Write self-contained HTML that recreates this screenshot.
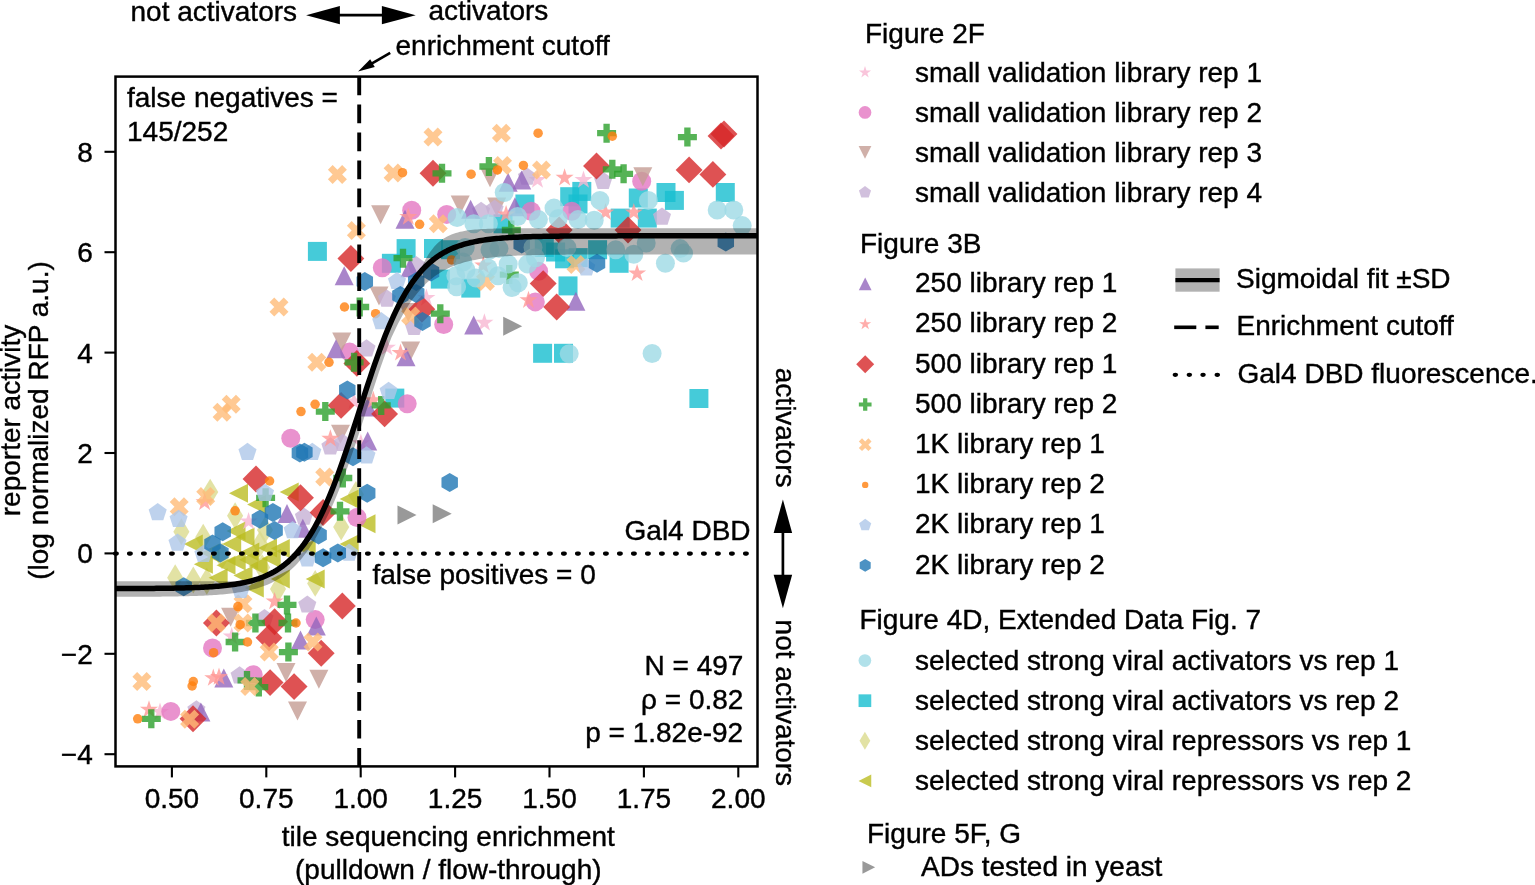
<!DOCTYPE html>
<html><head><meta charset="utf-8"><title>Reporter activity vs tile sequencing enrichment</title>
<style>
html,body{margin:0;padding:0;background:#fff;}
body{width:1535px;height:885px;overflow:hidden;}
svg{display:block;}
svg text{font-family:"Liberation Sans",Arial,Helvetica,sans-serif;font-size:28px;fill:#000;stroke:#000;stroke-width:0.4px;}
</style></head>
<body>
<svg width="1535" height="885" viewBox="0 0 1535 885">
<rect x="0" y="0" width="1535" height="885" fill="#fff"/>
<g><path d="M222 542.56L230.06 556L222 569.44L213.94 556Z" fill="#dbdb8d" fill-opacity="0.8"/>
<path d="M265 516.56L273.06 530L265 543.44L256.94 530Z" fill="#dbdb8d" fill-opacity="0.8"/>
<path d="M181.4 518.26L189.46 531.7L181.4 545.14L173.34 531.7Z" fill="#dbdb8d" fill-opacity="0.8"/>
<path d="M210.2 478.66L218.26 492.1L210.2 505.54L202.14 492.1Z" fill="#dbdb8d" fill-opacity="0.8"/>
<path d="M235.1 502.36L243.16 515.8L235.1 529.24L227.04 515.8Z" fill="#dbdb8d" fill-opacity="0.8"/>
<path d="M260 530.66L268.06 544.1L260 557.54L251.94 544.1Z" fill="#dbdb8d" fill-opacity="0.8"/>
<path d="M355.9 480.96L363.96 494.4L355.9 507.84L347.84 494.4Z" fill="#dbdb8d" fill-opacity="0.8"/>
<path d="M341.2 513.66L349.26 527.1L341.2 540.54L333.14 527.1Z" fill="#dbdb8d" fill-opacity="0.8"/>
<path d="M175.2 564.36L183.26 577.8L175.2 591.24L167.14 577.8Z" fill="#dbdb8d" fill-opacity="0.8"/>
<path d="M193.3 566.56L201.36 580L193.3 593.44L185.24 580Z" fill="#dbdb8d" fill-opacity="0.8"/>
<path d="M206.8 567.76L214.86 581.2L206.8 594.64L198.74 581.2Z" fill="#dbdb8d" fill-opacity="0.8"/>
<path d="M278 575.56L286.06 589L278 602.44L269.94 589Z" fill="#dbdb8d" fill-opacity="0.8"/>
<path d="M262.2 554.16L270.26 567.6L262.2 581.04L254.14 567.6Z" fill="#dbdb8d" fill-opacity="0.8"/>
<path d="M315.2 569.96L323.26 583.4L315.2 596.84L307.14 583.4Z" fill="#dbdb8d" fill-opacity="0.8"/>
<path d="M203.2 523.86L211.26 537.3L203.2 550.74L195.14 537.3Z" fill="#dbdb8d" fill-opacity="0.8"/>
<path d="M200.5 553L219.5 543.5L219.5 562.5Z" fill="#bcbd22" fill-opacity="0.8"/>
<path d="M258 548L277 538.5L277 557.5Z" fill="#bcbd22" fill-opacity="0.8"/>
<path d="M248.5 566L267.5 556.5L267.5 575.5Z" fill="#bcbd22" fill-opacity="0.8"/>
<path d="M235.5 537L254.5 527.5L254.5 546.5Z" fill="#bcbd22" fill-opacity="0.8"/>
<path d="M229 493.2L248 483.7L248 502.7Z" fill="#bcbd22" fill-opacity="0.8"/>
<path d="M247.1 504.5L266.1 495L266.1 514Z" fill="#bcbd22" fill-opacity="0.8"/>
<path d="M222.2 544.1L241.2 534.6L241.2 553.6Z" fill="#bcbd22" fill-opacity="0.8"/>
<path d="M240.3 552L259.3 542.5L259.3 561.5Z" fill="#bcbd22" fill-opacity="0.8"/>
<path d="M270.8 548.6L289.8 539.1L289.8 558.1Z" fill="#bcbd22" fill-opacity="0.8"/>
<path d="M183.8 544.1L202.8 534.6L202.8 553.6Z" fill="#bcbd22" fill-opacity="0.8"/>
<path d="M226.7 561L245.7 551.5L245.7 570.5Z" fill="#bcbd22" fill-opacity="0.8"/>
<path d="M279.7 492.1L298.7 482.6L298.7 501.6Z" fill="#bcbd22" fill-opacity="0.8"/>
<path d="M339.6 498.9L358.6 489.4L358.6 508.4Z" fill="#bcbd22" fill-opacity="0.8"/>
<path d="M356.5 523.8L375.5 514.3L375.5 533.3Z" fill="#bcbd22" fill-opacity="0.8"/>
<path d="M296.7 548.6L315.7 539.1L315.7 558.1Z" fill="#bcbd22" fill-opacity="0.8"/>
<path d="M339.6 544.1L358.6 534.6L358.6 553.6Z" fill="#bcbd22" fill-opacity="0.8"/>
<path d="M208.6 577.8L227.6 568.3L227.6 587.3Z" fill="#bcbd22" fill-opacity="0.8"/>
<path d="M233.5 575.5L252.5 566L252.5 585Z" fill="#bcbd22" fill-opacity="0.8"/>
<path d="M244.8 588L263.8 578.5L263.8 597.5Z" fill="#bcbd22" fill-opacity="0.8"/>
<path d="M270.8 578.9L289.8 569.4L289.8 588.4Z" fill="#bcbd22" fill-opacity="0.8"/>
<path d="M193.9 564.2L212.9 554.7L212.9 573.7Z" fill="#bcbd22" fill-opacity="0.8"/>
<path d="M216.5 565.3L235.5 555.8L235.5 574.8Z" fill="#bcbd22" fill-opacity="0.8"/>
<path d="M239.1 559.7L258.1 550.2L258.1 569.2Z" fill="#bcbd22" fill-opacity="0.8"/>
<path d="M261.7 558.6L280.7 549.1L280.7 568.1Z" fill="#bcbd22" fill-opacity="0.8"/>
<path d="M305.7 578.9L324.7 569.4L324.7 588.4Z" fill="#bcbd22" fill-opacity="0.8"/>
<path d="M226.5 531L245.5 521.5L245.5 540.5Z" fill="#bcbd22" fill-opacity="0.8"/>
<path d="M572.3 181.9L591.3 181.9L591.3 200.9L572.3 200.9Z" fill="#17becf" fill-opacity="0.8"/>
<path d="M656.5 183L675.5 183L675.5 202L656.5 202Z" fill="#17becf" fill-opacity="0.8"/>
<path d="M664.9 190.9L683.9 190.9L683.9 209.9L664.9 209.9Z" fill="#17becf" fill-opacity="0.8"/>
<path d="M715.8 183L734.8 183L734.8 202L715.8 202Z" fill="#17becf" fill-opacity="0.8"/>
<path d="M628.8 188.5L647.8 188.5L647.8 207.5L628.8 207.5Z" fill="#17becf" fill-opacity="0.8"/>
<path d="M307.9 241.9L326.9 241.9L326.9 260.9L307.9 260.9Z" fill="#17becf" fill-opacity="0.8"/>
<path d="M396.6 239.1L415.6 239.1L415.6 258.1L396.6 258.1Z" fill="#17becf" fill-opacity="0.8"/>
<path d="M381.9 253.8L400.9 253.8L400.9 272.8L381.9 272.8Z" fill="#17becf" fill-opacity="0.8"/>
<path d="M515.4 194.5L534.4 194.5L534.4 213.5L515.4 213.5Z" fill="#17becf" fill-opacity="0.8"/>
<path d="M560.2 187.2L579.2 187.2L579.2 206.2L560.2 206.2Z" fill="#17becf" fill-opacity="0.8"/>
<path d="M568.5 194.5L587.5 194.5L587.5 213.5L568.5 213.5Z" fill="#17becf" fill-opacity="0.8"/>
<path d="M493.5 214.3L512.5 214.3L512.5 233.3L493.5 233.3Z" fill="#17becf" fill-opacity="0.8"/>
<path d="M424 239L443 239L443 258L424 258Z" fill="#17becf" fill-opacity="0.8"/>
<path d="M441 240.2L460 240.2L460 259.2L441 259.2Z" fill="#17becf" fill-opacity="0.8"/>
<path d="M534.8 238L553.8 238L553.8 257L534.8 257Z" fill="#17becf" fill-opacity="0.8"/>
<path d="M546.1 242.5L565.1 242.5L565.1 261.5L546.1 261.5Z" fill="#17becf" fill-opacity="0.8"/>
<path d="M555.1 249.3L574.1 249.3L574.1 268.3L555.1 268.3Z" fill="#17becf" fill-opacity="0.8"/>
<path d="M558.5 276.4L577.5 276.4L577.5 295.4L558.5 295.4Z" fill="#17becf" fill-opacity="0.8"/>
<path d="M568.7 248.1L587.7 248.1L587.7 267.1L568.7 267.1Z" fill="#17becf" fill-opacity="0.8"/>
<path d="M430.8 269.6L449.8 269.6L449.8 288.6L430.8 288.6Z" fill="#17becf" fill-opacity="0.8"/>
<path d="M461.3 278.6L480.3 278.6L480.3 297.6L461.3 297.6Z" fill="#17becf" fill-opacity="0.8"/>
<path d="M610.7 208.6L629.7 208.6L629.7 227.6L610.7 227.6Z" fill="#17becf" fill-opacity="0.8"/>
<path d="M637.8 208.6L656.8 208.6L656.8 227.6L637.8 227.6Z" fill="#17becf" fill-opacity="0.8"/>
<path d="M588.1 240.2L607.1 240.2L607.1 259.2L588.1 259.2Z" fill="#17becf" fill-opacity="0.8"/>
<path d="M609.6 253.8L628.6 253.8L628.6 272.8L609.6 272.8Z" fill="#17becf" fill-opacity="0.8"/>
<path d="M533.1 343.8L552.1 343.8L552.1 362.8L533.1 362.8Z" fill="#17becf" fill-opacity="0.8"/>
<path d="M554 343.8L573 343.8L573 362.8L554 362.8Z" fill="#17becf" fill-opacity="0.8"/>
<path d="M689.4 389L708.4 389L708.4 408L689.4 408Z" fill="#17becf" fill-opacity="0.8"/>
<path d="M385.3 388.6L404.3 388.6L404.3 407.6L385.3 407.6Z" fill="#17becf" fill-opacity="0.8"/>
<path d="M537.5 170.5L539.63 177.06L546.54 177.06L540.95 181.12L543.08 187.69L537.5 183.63L531.92 187.69L534.05 181.12L528.46 177.06L535.37 177.06Z" fill="#f7b6d2" fill-opacity="0.8"/>
<path d="M583.5 170.5L585.63 177.06L592.54 177.06L586.95 181.12L589.08 187.69L583.5 183.63L577.92 187.69L580.05 181.12L574.46 177.06L581.37 177.06Z" fill="#f7b6d2" fill-opacity="0.8"/>
<path d="M426.4 288.5L428.53 295.06L435.44 295.06L429.85 299.12L431.98 305.69L426.4 301.63L420.82 305.69L422.95 299.12L417.36 295.06L424.27 295.06Z" fill="#f7b6d2" fill-opacity="0.8"/>
<path d="M386.9 338.1L389.03 344.66L395.94 344.66L390.35 348.72L392.48 355.29L386.9 351.23L381.32 355.29L383.45 348.72L377.86 344.66L384.77 344.66Z" fill="#f7b6d2" fill-opacity="0.8"/>
<path d="M484.4 313.3L486.53 319.86L493.44 319.86L487.85 323.92L489.98 330.49L484.4 326.43L478.82 330.49L480.95 323.92L475.36 319.86L482.27 319.86Z" fill="#f7b6d2" fill-opacity="0.8"/>
<path d="M354 392L356.13 398.56L363.04 398.56L357.45 402.62L359.58 409.19L354 405.13L348.42 409.19L350.55 402.62L344.96 398.56L351.87 398.56Z" fill="#f7b6d2" fill-opacity="0.8"/>
<path d="M360.9 433.8L363.03 440.36L369.94 440.36L364.35 444.42L366.48 450.99L360.9 446.93L355.32 450.99L357.45 444.42L351.86 440.36L358.77 440.36Z" fill="#f7b6d2" fill-opacity="0.8"/>
<path d="M248.6 512L250.73 518.56L257.64 518.56L252.05 522.62L254.18 529.19L248.6 525.13L243.02 529.19L245.15 522.62L239.56 518.56L246.47 518.56Z" fill="#f7b6d2" fill-opacity="0.8"/>
<path d="M231.7 627L233.83 633.56L240.74 633.56L235.15 637.62L237.28 644.19L231.7 640.13L226.12 644.19L228.25 637.62L222.66 633.56L229.57 633.56Z" fill="#f7b6d2" fill-opacity="0.8"/>
<path d="M160 702.5L162.13 709.06L169.04 709.06L163.45 713.12L165.58 719.69L160 715.63L154.42 719.69L156.55 713.12L150.96 709.06L157.87 709.06Z" fill="#f7b6d2" fill-opacity="0.8"/>
<circle cx="641.7" cy="181.2" r="9.5" fill="#e377c2" fill-opacity="0.8"/>
<circle cx="411.7" cy="210.2" r="9.5" fill="#e377c2" fill-opacity="0.8"/>
<circle cx="382.3" cy="267.8" r="9.5" fill="#e377c2" fill-opacity="0.8"/>
<circle cx="446.7" cy="214.4" r="9.5" fill="#e377c2" fill-opacity="0.8"/>
<circle cx="531.1" cy="211.3" r="9.5" fill="#e377c2" fill-opacity="0.8"/>
<circle cx="571.8" cy="211.3" r="9.5" fill="#e377c2" fill-opacity="0.8"/>
<circle cx="538.6" cy="271.2" r="9.5" fill="#e377c2" fill-opacity="0.8"/>
<circle cx="349.6" cy="352.1" r="9.5" fill="#e377c2" fill-opacity="0.8"/>
<circle cx="443.7" cy="324.5" r="9.5" fill="#e377c2" fill-opacity="0.8"/>
<circle cx="535.3" cy="301.9" r="9.5" fill="#e377c2" fill-opacity="0.8"/>
<circle cx="407.2" cy="403.7" r="9.5" fill="#e377c2" fill-opacity="0.8"/>
<circle cx="290.8" cy="438.2" r="9.5" fill="#e377c2" fill-opacity="0.8"/>
<circle cx="357" cy="517.5" r="9.5" fill="#e377c2" fill-opacity="0.8"/>
<circle cx="212.5" cy="648" r="9.5" fill="#e377c2" fill-opacity="0.8"/>
<circle cx="315.2" cy="619.6" r="9.5" fill="#e377c2" fill-opacity="0.8"/>
<circle cx="253.2" cy="674.7" r="9.5" fill="#e377c2" fill-opacity="0.8"/>
<circle cx="170.8" cy="711.4" r="9.5" fill="#e377c2" fill-opacity="0.8"/>
<path d="M490 187.3L499.5 168.3L480.5 168.3Z" fill="#c49c94" fill-opacity="0.8"/>
<path d="M642.8 186.2L652.3 167.2L633.3 167.2Z" fill="#c49c94" fill-opacity="0.8"/>
<path d="M380.6 224.2L390.1 205.2L371.1 205.2Z" fill="#c49c94" fill-opacity="0.8"/>
<path d="M379 305.5L388.5 286.5L369.5 286.5Z" fill="#c49c94" fill-opacity="0.8"/>
<path d="M460.2 214.5L469.7 195.5L450.7 195.5Z" fill="#c49c94" fill-opacity="0.8"/>
<path d="M496.7 216.6L506.2 197.6L487.2 197.6Z" fill="#c49c94" fill-opacity="0.8"/>
<path d="M408.3 322.1L417.8 303.1L398.8 303.1Z" fill="#c49c94" fill-opacity="0.8"/>
<path d="M341.7 351.5L351.2 332.5L332.2 332.5Z" fill="#c49c94" fill-opacity="0.8"/>
<path d="M410.6 360.5L420.1 341.5L401.1 341.5Z" fill="#c49c94" fill-opacity="0.8"/>
<path d="M340.5 443.7L350 424.7L331 424.7Z" fill="#c49c94" fill-opacity="0.8"/>
<path d="M230.6 626.8L240.1 607.8L221.1 607.8Z" fill="#c49c94" fill-opacity="0.8"/>
<path d="M286 682L295.5 663L276.5 663Z" fill="#c49c94" fill-opacity="0.8"/>
<path d="M318.9 688.7L328.4 669.7L309.4 669.7Z" fill="#c49c94" fill-opacity="0.8"/>
<path d="M297.5 720.4L307 701.4L288 701.4Z" fill="#c49c94" fill-opacity="0.8"/>
<path d="M527 167.5L536.04 174.06L532.58 184.69L521.42 184.69L517.96 174.06Z" fill="#c5b0d5" fill-opacity="0.8"/>
<path d="M603.2 171.7L612.24 178.26L608.78 188.89L597.62 188.89L594.16 178.26Z" fill="#c5b0d5" fill-opacity="0.8"/>
<path d="M416.2 256L425.24 262.56L421.78 273.19L410.62 273.19L407.16 262.56Z" fill="#c5b0d5" fill-opacity="0.8"/>
<path d="M481.1 201.8L490.14 208.36L486.68 218.99L475.52 218.99L472.06 208.36Z" fill="#c5b0d5" fill-opacity="0.8"/>
<path d="M494.6 199.7L503.64 206.26L500.18 216.89L489.02 216.89L485.56 206.26Z" fill="#c5b0d5" fill-opacity="0.8"/>
<path d="M662 207.5L671.04 214.06L667.58 224.69L656.42 224.69L652.96 214.06Z" fill="#c5b0d5" fill-opacity="0.8"/>
<path d="M386.9 289.5L395.94 296.06L392.48 306.69L381.32 306.69L377.86 296.06Z" fill="#c5b0d5" fill-opacity="0.8"/>
<path d="M414 317.8L423.04 324.36L419.58 334.99L408.42 334.99L404.96 324.36Z" fill="#c5b0d5" fill-opacity="0.8"/>
<path d="M366.5 339.3L375.54 345.86L372.08 356.49L360.92 356.49L357.46 345.86Z" fill="#c5b0d5" fill-opacity="0.8"/>
<path d="M330.4 437.2L339.44 443.76L335.98 454.39L324.82 454.39L321.36 443.76Z" fill="#c5b0d5" fill-opacity="0.8"/>
<path d="M342.8 433.8L351.84 440.36L348.38 450.99L337.22 450.99L333.76 440.36Z" fill="#c5b0d5" fill-opacity="0.8"/>
<path d="M303.9 507.5L312.94 514.06L309.48 524.69L298.32 524.69L294.86 514.06Z" fill="#c5b0d5" fill-opacity="0.8"/>
<path d="M264.5 608.9L273.54 615.46L270.08 626.09L258.92 626.09L255.46 615.46Z" fill="#c5b0d5" fill-opacity="0.8"/>
<path d="M307.3 595.4L316.34 601.96L312.88 612.59L301.72 612.59L298.26 601.96Z" fill="#c5b0d5" fill-opacity="0.8"/>
<path d="M239.6 666.3L248.64 672.86L245.18 683.49L234.02 683.49L230.56 672.86Z" fill="#c5b0d5" fill-opacity="0.8"/>
<path d="M196.4 700.2L205.44 706.76L201.98 717.39L190.82 717.39L187.36 706.76Z" fill="#c5b0d5" fill-opacity="0.8"/>
<path d="M508.1 172.8L517.6 191.8L498.6 191.8Z" fill="#9467bd" fill-opacity="0.8"/>
<path d="M521.7 170.5L531.2 189.5L512.2 189.5Z" fill="#9467bd" fill-opacity="0.8"/>
<path d="M405 209.7L414.5 228.7L395.5 228.7Z" fill="#9467bd" fill-opacity="0.8"/>
<path d="M344.2 266.2L353.7 285.2L334.7 285.2Z" fill="#9467bd" fill-opacity="0.8"/>
<path d="M410 258.3L419.5 277.3L400.5 277.3Z" fill="#9467bd" fill-opacity="0.8"/>
<path d="M470.6 199.7L480.1 218.7L461.1 218.7Z" fill="#9467bd" fill-opacity="0.8"/>
<path d="M514.9 197.3L524.4 216.3L505.4 216.3Z" fill="#9467bd" fill-opacity="0.8"/>
<path d="M336 339.3L345.5 358.3L326.5 358.3Z" fill="#9467bd" fill-opacity="0.8"/>
<path d="M406 347.3L415.5 366.3L396.5 366.3Z" fill="#9467bd" fill-opacity="0.8"/>
<path d="M473.7 315.5L483.2 334.5L464.2 334.5Z" fill="#9467bd" fill-opacity="0.8"/>
<path d="M575.9 291.8L585.4 310.8L566.4 310.8Z" fill="#9467bd" fill-opacity="0.8"/>
<path d="M367.7 397.6L377.2 416.6L358.2 416.6Z" fill="#9467bd" fill-opacity="0.8"/>
<path d="M367.7 431.5L377.2 450.5L358.2 450.5Z" fill="#9467bd" fill-opacity="0.8"/>
<path d="M287 504.1L296.5 523.1L277.5 523.1Z" fill="#9467bd" fill-opacity="0.8"/>
<path d="M302.8 518.8L312.3 537.8L293.3 537.8Z" fill="#9467bd" fill-opacity="0.8"/>
<path d="M316.3 616.5L325.8 635.5L306.8 635.5Z" fill="#9467bd" fill-opacity="0.8"/>
<path d="M300.5 630.5L310 649.5L291 649.5Z" fill="#9467bd" fill-opacity="0.8"/>
<path d="M223.8 668.6L233.3 687.6L214.3 687.6Z" fill="#9467bd" fill-opacity="0.8"/>
<path d="M200.9 702.5L210.4 721.5L191.4 721.5Z" fill="#9467bd" fill-opacity="0.8"/>
<path d="M564.6 168.3L566.73 174.86L573.64 174.86L568.05 178.92L570.18 185.49L564.6 181.43L559.02 185.49L561.15 178.92L555.56 174.86L562.47 174.86Z" fill="#ff9896" fill-opacity="0.8"/>
<path d="M408.3 207.5L410.43 214.06L417.34 214.06L411.75 218.12L413.88 224.69L408.3 220.63L402.72 224.69L404.85 218.12L399.26 214.06L406.17 214.06Z" fill="#ff9896" fill-opacity="0.8"/>
<path d="M506.1 204.9L508.23 211.46L515.14 211.46L509.55 215.52L511.68 222.09L506.1 218.03L500.52 222.09L502.65 215.52L497.06 211.46L503.97 211.46Z" fill="#ff9896" fill-opacity="0.8"/>
<path d="M483.3 256L485.43 262.56L492.34 262.56L486.75 266.62L488.88 273.19L483.3 269.13L477.72 273.19L479.85 266.62L474.26 262.56L481.17 262.56Z" fill="#ff9896" fill-opacity="0.8"/>
<path d="M605.5 202.9L607.63 209.46L614.54 209.46L608.95 213.52L611.08 220.09L605.5 216.03L599.92 220.09L602.05 213.52L596.46 209.46L603.37 209.46Z" fill="#ff9896" fill-opacity="0.8"/>
<path d="M633.8 202.9L635.93 209.46L642.84 209.46L637.25 213.52L639.38 220.09L633.8 216.03L628.22 220.09L630.35 213.52L624.76 209.46L631.67 209.46Z" fill="#ff9896" fill-opacity="0.8"/>
<path d="M637.1 263.9L639.23 270.46L646.14 270.46L640.55 274.52L642.68 281.09L637.1 277.03L631.52 281.09L633.65 274.52L628.06 270.46L634.97 270.46Z" fill="#ff9896" fill-opacity="0.8"/>
<path d="M400.5 343.4L402.63 349.96L409.54 349.96L403.95 354.02L406.08 360.59L400.5 356.53L394.92 360.59L397.05 354.02L391.46 349.96L398.37 349.96Z" fill="#ff9896" fill-opacity="0.8"/>
<path d="M528.5 290.7L530.63 297.26L537.54 297.26L531.95 301.32L534.08 307.89L528.5 303.83L522.92 307.89L525.05 301.32L519.46 297.26L526.37 297.26Z" fill="#ff9896" fill-opacity="0.8"/>
<path d="M373.3 390.8L375.43 397.36L382.34 397.36L376.75 401.42L378.88 407.99L373.3 403.93L367.72 407.99L369.85 401.42L364.26 397.36L371.17 397.36Z" fill="#ff9896" fill-opacity="0.8"/>
<path d="M330.4 429.3L332.53 435.86L339.44 435.86L333.85 439.92L335.98 446.49L330.4 442.43L324.82 446.49L326.95 439.92L321.36 435.86L328.27 435.86Z" fill="#ff9896" fill-opacity="0.8"/>
<path d="M204.6 492.8L206.73 499.36L213.64 499.36L208.05 503.42L210.18 509.99L204.6 505.93L199.02 509.99L201.15 503.42L195.56 499.36L202.47 499.36Z" fill="#ff9896" fill-opacity="0.8"/>
<path d="M274.6 592L276.73 598.56L283.64 598.56L278.05 602.62L280.18 609.19L274.6 605.13L269.02 609.19L271.15 602.62L265.56 598.56L272.47 598.56Z" fill="#ff9896" fill-opacity="0.8"/>
<path d="M213.3 668.6L215.43 675.16L222.34 675.16L216.75 679.22L218.88 685.79L213.3 681.73L207.72 685.79L209.85 679.22L204.26 675.16L211.17 675.16Z" fill="#ff9896" fill-opacity="0.8"/>
<path d="M219 667.5L221.13 674.06L228.04 674.06L222.45 678.12L224.58 684.69L219 680.63L213.42 684.69L215.55 678.12L209.96 674.06L216.87 674.06Z" fill="#ff9896" fill-opacity="0.8"/>
<path d="M149 700.2L151.13 706.76L158.04 706.76L152.45 710.82L154.58 717.39L149 713.33L143.42 717.39L145.55 710.82L139.96 706.76L146.87 706.76Z" fill="#ff9896" fill-opacity="0.8"/>
<path d="M433 159.86L446.44 173.3L433 186.74L419.56 173.3Z" fill="#d62728" fill-opacity="0.8"/>
<path d="M721 122.56L734.44 136L721 149.44L707.56 136Z" fill="#d62728" fill-opacity="0.8"/>
<path d="M724 120.56L737.44 134L724 147.44L710.56 134Z" fill="#d62728" fill-opacity="0.8"/>
<path d="M596.5 152.56L609.94 166L596.5 179.44L583.06 166Z" fill="#d62728" fill-opacity="0.8"/>
<path d="M689.1 156.46L702.54 169.9L689.1 183.34L675.66 169.9Z" fill="#d62728" fill-opacity="0.8"/>
<path d="M712.9 160.96L726.34 174.4L712.9 187.84L699.46 174.4Z" fill="#d62728" fill-opacity="0.8"/>
<path d="M350.9 245.06L364.34 258.5L350.9 271.94L337.46 258.5Z" fill="#d62728" fill-opacity="0.8"/>
<path d="M559.2 216.56L572.64 230L559.2 243.44L545.76 230Z" fill="#d62728" fill-opacity="0.8"/>
<path d="M543.2 270.16L556.64 283.6L543.2 297.04L529.76 283.6Z" fill="#d62728" fill-opacity="0.8"/>
<path d="M628 216.56L641.44 230L628 243.44L614.56 230Z" fill="#d62728" fill-opacity="0.8"/>
<path d="M421.9 295.76L435.34 309.2L421.9 322.64L408.46 309.2Z" fill="#d62728" fill-opacity="0.8"/>
<path d="M356.9 349.96L370.34 363.4L356.9 376.84L343.46 363.4Z" fill="#d62728" fill-opacity="0.8"/>
<path d="M556.7 293.56L570.14 307L556.7 320.44L543.26 307Z" fill="#d62728" fill-opacity="0.8"/>
<path d="M341.1 391.96L354.54 405.4L341.1 418.84L327.66 405.4Z" fill="#d62728" fill-opacity="0.8"/>
<path d="M384.6 400.46L398.04 413.9L384.6 427.34L371.16 413.9Z" fill="#d62728" fill-opacity="0.8"/>
<path d="M256 465.56L269.44 479L256 492.44L242.56 479Z" fill="#d62728" fill-opacity="0.8"/>
<path d="M300.5 484.36L313.94 497.8L300.5 511.24L287.06 497.8Z" fill="#d62728" fill-opacity="0.8"/>
<path d="M323.1 499.06L336.54 512.5L323.1 525.94L309.66 512.5Z" fill="#d62728" fill-opacity="0.8"/>
<path d="M216.4 609.56L229.84 623L216.4 636.44L202.96 623Z" fill="#d62728" fill-opacity="0.8"/>
<path d="M274.6 608.36L288.04 621.8L274.6 635.24L261.16 621.8Z" fill="#d62728" fill-opacity="0.8"/>
<path d="M269 624.26L282.44 637.7L269 651.14L255.56 637.7Z" fill="#d62728" fill-opacity="0.8"/>
<path d="M342.3 592.56L355.74 606L342.3 619.44L328.86 606Z" fill="#d62728" fill-opacity="0.8"/>
<path d="M321.2 639.76L334.64 653.2L321.2 666.64L307.76 653.2Z" fill="#d62728" fill-opacity="0.8"/>
<path d="M270.1 669.16L283.54 682.6L270.1 696.04L256.66 682.6Z" fill="#d62728" fill-opacity="0.8"/>
<path d="M294.1 673.16L307.54 686.6L294.1 700.04L280.66 686.6Z" fill="#d62728" fill-opacity="0.8"/>
<path d="M193 705.36L206.44 718.8L193 732.24L179.56 718.8Z" fill="#d62728" fill-opacity="0.8"/>
<path d="M438.83 163.8L445.17 163.8L445.17 170.13L451.5 170.13L451.5 176.47L445.17 176.47L445.17 182.8L438.83 182.8L438.83 176.47L432.5 176.47L432.5 170.13L438.83 170.13Z" fill="#2ca02c" fill-opacity="0.8"/>
<path d="M485.73 157L492.07 157L492.07 163.33L498.4 163.33L498.4 169.67L492.07 169.67L492.07 176L485.73 176L485.73 169.67L479.4 169.67L479.4 163.33L485.73 163.33Z" fill="#2ca02c" fill-opacity="0.8"/>
<path d="M603.43 123.7L609.77 123.7L609.77 130.03L616.1 130.03L616.1 136.37L609.77 136.37L609.77 142.7L603.43 142.7L603.43 136.37L597.1 136.37L597.1 130.03L603.43 130.03Z" fill="#2ca02c" fill-opacity="0.8"/>
<path d="M684.23 127.6L690.57 127.6L690.57 133.93L696.9 133.93L696.9 140.27L690.57 140.27L690.57 146.6L684.23 146.6L684.23 140.27L677.9 140.27L677.9 133.93L684.23 133.93Z" fill="#2ca02c" fill-opacity="0.8"/>
<path d="M609.13 159.8L615.47 159.8L615.47 166.13L621.8 166.13L621.8 172.47L615.47 172.47L615.47 178.8L609.13 178.8L609.13 172.47L602.8 172.47L602.8 166.13L609.13 166.13Z" fill="#2ca02c" fill-opacity="0.8"/>
<path d="M620.43 164.3L626.77 164.3L626.77 170.63L633.1 170.63L633.1 176.97L626.77 176.97L626.77 183.3L620.43 183.3L620.43 176.97L614.1 176.97L614.1 170.63L620.43 170.63Z" fill="#2ca02c" fill-opacity="0.8"/>
<path d="M399.83 248.7L406.17 248.7L406.17 255.03L412.5 255.03L412.5 261.37L406.17 261.37L406.17 267.7L399.83 267.7L399.83 261.37L393.5 261.37L393.5 255.03L399.83 255.03Z" fill="#2ca02c" fill-opacity="0.8"/>
<path d="M508.13 220.5L514.47 220.5L514.47 226.83L520.8 226.83L520.8 233.17L514.47 233.17L514.47 239.5L508.13 239.5L508.13 233.17L501.8 233.17L501.8 226.83L508.13 226.83Z" fill="#2ca02c" fill-opacity="0.8"/>
<path d="M506.13 265.1L512.47 265.1L512.47 271.43L518.8 271.43L518.8 277.77L512.47 277.77L512.47 284.1L506.13 284.1L506.13 277.77L499.8 277.77L499.8 271.43L506.13 271.43Z" fill="#2ca02c" fill-opacity="0.8"/>
<path d="M356.53 297.5L362.87 297.5L362.87 303.83L369.2 303.83L369.2 310.17L362.87 310.17L362.87 316.5L356.53 316.5L356.53 310.17L350.2 310.17L350.2 303.83L356.53 303.83Z" fill="#2ca02c" fill-opacity="0.8"/>
<path d="M350.93 352.8L357.27 352.8L357.27 359.13L363.6 359.13L363.6 365.47L357.27 365.47L357.27 371.8L350.93 371.8L350.93 365.47L344.6 365.47L344.6 359.13L350.93 359.13Z" fill="#2ca02c" fill-opacity="0.8"/>
<path d="M437.13 304.2L443.47 304.2L443.47 310.53L449.8 310.53L449.8 316.87L443.47 316.87L443.47 323.2L437.13 323.2L437.13 316.87L430.8 316.87L430.8 310.53L437.13 310.53Z" fill="#2ca02c" fill-opacity="0.8"/>
<path d="M322.13 402.1L328.47 402.1L328.47 408.43L334.8 408.43L334.8 414.77L328.47 414.77L328.47 421.1L322.13 421.1L322.13 414.77L315.8 414.77L315.8 408.43L322.13 408.43Z" fill="#2ca02c" fill-opacity="0.8"/>
<path d="M378.03 395.9L384.37 395.9L384.37 402.23L390.7 402.23L390.7 408.57L384.37 408.57L384.37 414.9L378.03 414.9L378.03 408.57L371.7 408.57L371.7 402.23L378.03 402.23Z" fill="#2ca02c" fill-opacity="0.8"/>
<path d="M339.63 468.5L345.97 468.5L345.97 474.83L352.3 474.83L352.3 481.17L345.97 481.17L345.97 487.5L339.63 487.5L339.63 481.17L333.3 481.17L333.3 474.83L339.63 474.83Z" fill="#2ca02c" fill-opacity="0.8"/>
<path d="M262.43 488.3L268.77 488.3L268.77 494.63L275.1 494.63L275.1 500.97L268.77 500.97L268.77 507.3L262.43 507.3L262.43 500.97L256.1 500.97L256.1 494.63L262.43 494.63Z" fill="#2ca02c" fill-opacity="0.8"/>
<path d="M336.83 501.8L343.17 501.8L343.17 508.13L349.5 508.13L349.5 514.47L343.17 514.47L343.17 520.8L336.83 520.8L336.83 514.47L330.5 514.47L330.5 508.13L336.83 508.13Z" fill="#2ca02c" fill-opacity="0.8"/>
<path d="M252.23 613.5L258.57 613.5L258.57 619.83L264.9 619.83L264.9 626.17L258.57 626.17L258.57 632.5L252.23 632.5L252.23 626.17L245.9 626.17L245.9 619.83L252.23 619.83Z" fill="#2ca02c" fill-opacity="0.8"/>
<path d="M231.93 632.5L238.27 632.5L238.27 638.83L244.6 638.83L244.6 645.17L238.27 645.17L238.27 651.5L231.93 651.5L231.93 645.17L225.6 645.17L225.6 638.83L231.93 638.83Z" fill="#2ca02c" fill-opacity="0.8"/>
<path d="M283.83 595.4L290.17 595.4L290.17 601.73L296.5 601.73L296.5 608.07L290.17 608.07L290.17 614.4L283.83 614.4L283.83 608.07L277.5 608.07L277.5 601.73L283.83 601.73Z" fill="#2ca02c" fill-opacity="0.8"/>
<path d="M284.83 613.5L291.17 613.5L291.17 619.83L297.5 619.83L297.5 626.17L291.17 626.17L291.17 632.5L284.83 632.5L284.83 626.17L278.5 626.17L278.5 619.83L284.83 619.83Z" fill="#2ca02c" fill-opacity="0.8"/>
<path d="M285.23 642.6L291.57 642.6L291.57 648.93L297.9 648.93L297.9 655.27L291.57 655.27L291.57 661.6L285.23 661.6L285.23 655.27L278.9 655.27L278.9 648.93L285.23 648.93Z" fill="#2ca02c" fill-opacity="0.8"/>
<path d="M243.83 670.9L250.17 670.9L250.17 677.23L256.5 677.23L256.5 683.57L250.17 683.57L250.17 689.9L243.83 689.9L243.83 683.57L237.5 683.57L237.5 677.23L243.83 677.23Z" fill="#2ca02c" fill-opacity="0.8"/>
<path d="M255.63 677.6L261.97 677.6L261.97 683.93L268.3 683.93L268.3 690.27L261.97 690.27L261.97 696.6L255.63 696.6L255.63 690.27L249.3 690.27L249.3 683.93L255.63 683.93Z" fill="#2ca02c" fill-opacity="0.8"/>
<path d="M148.13 709.3L154.47 709.3L154.47 715.63L160.8 715.63L160.8 721.97L154.47 721.97L154.47 728.3L148.13 728.3L148.13 721.97L141.8 721.97L141.8 715.63L148.13 715.63Z" fill="#2ca02c" fill-opacity="0.8"/>
<path d="M332.65 164.9L337.4 169.65L342.15 164.9L346.9 169.65L342.15 174.4L346.9 179.15L342.15 183.9L337.4 179.15L332.65 183.9L327.9 179.15L332.65 174.4L327.9 169.65Z" fill="#ffbb78" fill-opacity="0.8"/>
<path d="M388.35 163.5L393.1 168.25L397.85 163.5L402.6 168.25L397.85 173L402.6 177.75L397.85 182.5L393.1 177.75L388.35 182.5L383.6 177.75L388.35 173L383.6 168.25Z" fill="#ffbb78" fill-opacity="0.8"/>
<path d="M428.25 127.5L433 132.25L437.75 127.5L442.5 132.25L437.75 137L442.5 141.75L437.75 146.5L433 141.75L428.25 146.5L423.5 141.75L428.25 137L423.5 132.25Z" fill="#ffbb78" fill-opacity="0.8"/>
<path d="M496.65 123.7L501.4 128.45L506.15 123.7L510.9 128.45L506.15 133.2L510.9 137.95L506.15 142.7L501.4 137.95L496.65 142.7L491.9 137.95L496.65 133.2L491.9 128.45Z" fill="#ffbb78" fill-opacity="0.8"/>
<path d="M497.75 155.9L502.5 160.65L507.25 155.9L512 160.65L507.25 165.4L512 170.15L507.25 174.9L502.5 170.15L497.75 174.9L493 170.15L497.75 165.4L493 160.65Z" fill="#ffbb78" fill-opacity="0.8"/>
<path d="M536.75 160.4L541.5 165.15L546.25 160.4L551 165.15L546.25 169.9L551 174.65L546.25 179.4L541.5 174.65L536.75 179.4L532 174.65L536.75 169.9L532 165.15Z" fill="#ffbb78" fill-opacity="0.8"/>
<path d="M351.65 221L356.4 225.75L361.15 221L365.9 225.75L361.15 230.5L365.9 235.25L361.15 240L356.4 235.25L351.65 240L346.9 235.25L351.65 230.5L346.9 225.75Z" fill="#ffbb78" fill-opacity="0.8"/>
<path d="M433.55 214.3L438.3 219.05L443.05 214.3L447.8 219.05L443.05 223.8L447.8 228.55L443.05 233.3L438.3 228.55L433.55 233.3L428.8 228.55L433.55 223.8L428.8 219.05Z" fill="#ffbb78" fill-opacity="0.8"/>
<path d="M480.75 271.9L485.5 276.65L490.25 271.9L495 276.65L490.25 281.4L495 286.15L490.25 290.9L485.5 286.15L480.75 290.9L476 286.15L480.75 281.4L476 276.65Z" fill="#ffbb78" fill-opacity="0.8"/>
<path d="M571.25 254.9L576 259.65L580.75 254.9L585.5 259.65L580.75 264.4L585.5 269.15L580.75 273.9L576 269.15L571.25 273.9L566.5 269.15L571.25 264.4L566.5 259.65Z" fill="#ffbb78" fill-opacity="0.8"/>
<path d="M274.25 297.5L279 302.25L283.75 297.5L288.5 302.25L283.75 307L288.5 311.75L283.75 316.5L279 311.75L274.25 316.5L269.5 311.75L274.25 307L269.5 302.25Z" fill="#ffbb78" fill-opacity="0.8"/>
<path d="M405.85 306.5L410.6 311.25L415.35 306.5L420.1 311.25L415.35 316L420.1 320.75L415.35 325.5L410.6 320.75L405.85 325.5L401.1 320.75L405.85 316L401.1 311.25Z" fill="#ffbb78" fill-opacity="0.8"/>
<path d="M312.05 352.8L316.8 357.55L321.55 352.8L326.3 357.55L321.55 362.3L326.3 367.05L321.55 371.8L316.8 367.05L312.05 371.8L307.3 367.05L312.05 362.3L307.3 357.55Z" fill="#ffbb78" fill-opacity="0.8"/>
<path d="M319.95 467.5L324.7 472.25L329.45 467.5L334.2 472.25L329.45 477L334.2 481.75L329.45 486.5L324.7 481.75L319.95 486.5L315.2 481.75L319.95 477L315.2 472.25Z" fill="#ffbb78" fill-opacity="0.8"/>
<path d="M217.35 402.7L222.1 407.45L226.85 402.7L231.6 407.45L226.85 412.2L231.6 416.95L226.85 421.7L222.1 416.95L217.35 421.7L212.6 416.95L217.35 412.2L212.6 407.45Z" fill="#ffbb78" fill-opacity="0.8"/>
<path d="M226.45 394.8L231.2 399.55L235.95 394.8L240.7 399.55L235.95 404.3L240.7 409.05L235.95 413.8L231.2 409.05L226.45 413.8L221.7 409.05L226.45 404.3L221.7 399.55Z" fill="#ffbb78" fill-opacity="0.8"/>
<path d="M174.45 497.3L179.2 502.05L183.95 497.3L188.7 502.05L183.95 506.8L188.7 511.55L183.95 516.3L179.2 511.55L174.45 516.3L169.7 511.55L174.45 506.8L169.7 502.05Z" fill="#ffbb78" fill-opacity="0.8"/>
<path d="M200.95 487.1L205.7 491.85L210.45 487.1L215.2 491.85L210.45 496.6L215.2 501.35L210.45 506.1L205.7 501.35L200.95 506.1L196.2 501.35L200.95 496.6L196.2 491.85Z" fill="#ffbb78" fill-opacity="0.8"/>
<path d="M211.65 613.5L216.4 618.25L221.15 613.5L225.9 618.25L221.15 623L225.9 627.75L221.15 632.5L216.4 627.75L211.65 632.5L206.9 627.75L211.65 623L206.9 618.25Z" fill="#ffbb78" fill-opacity="0.8"/>
<path d="M238.25 594.3L243 599.05L247.75 594.3L252.5 599.05L247.75 603.8L252.5 608.55L247.75 613.3L243 608.55L238.25 613.3L233.5 608.55L238.25 603.8L233.5 599.05Z" fill="#ffbb78" fill-opacity="0.8"/>
<path d="M238.25 613.5L243 618.25L247.75 613.5L252.5 618.25L247.75 623L252.5 627.75L247.75 632.5L243 627.75L238.25 632.5L233.5 627.75L238.25 623L233.5 618.25Z" fill="#ffbb78" fill-opacity="0.8"/>
<path d="M308.25 632.5L313 637.25L317.75 632.5L322.5 637.25L317.75 642L322.5 646.75L317.75 651.5L313 646.75L308.25 651.5L303.5 646.75L308.25 642L303.5 637.25Z" fill="#ffbb78" fill-opacity="0.8"/>
<path d="M264.45 642.6L269.2 647.35L273.95 642.6L278.7 647.35L273.95 652.1L278.7 656.85L273.95 661.6L269.2 656.85L264.45 661.6L259.7 656.85L264.45 652.1L259.7 647.35Z" fill="#ffbb78" fill-opacity="0.8"/>
<path d="M137.15 672L141.9 676.75L146.65 672L151.4 676.75L146.65 681.5L151.4 686.25L146.65 691L141.9 686.25L137.15 691L132.4 686.25L137.15 681.5L132.4 676.75Z" fill="#ffbb78" fill-opacity="0.8"/>
<path d="M245.05 677.1L249.8 681.85L254.55 677.1L259.3 681.85L254.55 686.6L259.3 691.35L254.55 696.1L249.8 691.35L245.05 696.1L240.3 691.35L245.05 686.6L240.3 681.85Z" fill="#ffbb78" fill-opacity="0.8"/>
<path d="M184.85 709.8L189.6 714.55L194.35 709.8L199.1 714.55L194.35 719.3L199.1 724.05L194.35 728.8L189.6 724.05L184.85 728.8L180.1 724.05L184.85 719.3L180.1 714.55Z" fill="#ffbb78" fill-opacity="0.8"/>
<circle cx="402.5" cy="172.7" r="4.75" fill="#ff7f0e" fill-opacity="0.8"/>
<circle cx="538.1" cy="133.2" r="4.75" fill="#ff7f0e" fill-opacity="0.8"/>
<circle cx="471.1" cy="174.2" r="4.75" fill="#ff7f0e" fill-opacity="0.8"/>
<circle cx="497.4" cy="169.9" r="4.75" fill="#ff7f0e" fill-opacity="0.8"/>
<circle cx="523.4" cy="165.4" r="4.75" fill="#ff7f0e" fill-opacity="0.8"/>
<circle cx="612.3" cy="136.2" r="4.75" fill="#ff7f0e" fill-opacity="0.8"/>
<circle cx="419.6" cy="224.3" r="4.75" fill="#ff7f0e" fill-opacity="0.8"/>
<circle cx="451.6" cy="259.9" r="4.75" fill="#ff7f0e" fill-opacity="0.8"/>
<circle cx="344.5" cy="307" r="4.75" fill="#ff7f0e" fill-opacity="0.8"/>
<circle cx="375.6" cy="313.7" r="4.75" fill="#ff7f0e" fill-opacity="0.8"/>
<circle cx="329" cy="362.3" r="4.75" fill="#ff7f0e" fill-opacity="0.8"/>
<circle cx="301" cy="411.6" r="4.75" fill="#ff7f0e" fill-opacity="0.8"/>
<circle cx="315.1" cy="404.3" r="4.75" fill="#ff7f0e" fill-opacity="0.8"/>
<circle cx="269.6" cy="481" r="4.75" fill="#ff7f0e" fill-opacity="0.8"/>
<circle cx="235.1" cy="510.8" r="4.75" fill="#ff7f0e" fill-opacity="0.8"/>
<circle cx="237.9" cy="606.6" r="4.75" fill="#ff7f0e" fill-opacity="0.8"/>
<circle cx="240.2" cy="624.7" r="4.75" fill="#ff7f0e" fill-opacity="0.8"/>
<circle cx="247.5" cy="642" r="4.75" fill="#ff7f0e" fill-opacity="0.8"/>
<circle cx="213.6" cy="652.7" r="4.75" fill="#ff7f0e" fill-opacity="0.8"/>
<circle cx="296" cy="623" r="4.75" fill="#ff7f0e" fill-opacity="0.8"/>
<circle cx="193.3" cy="681.5" r="4.75" fill="#ff7f0e" fill-opacity="0.8"/>
<circle cx="192.1" cy="686" r="4.75" fill="#ff7f0e" fill-opacity="0.8"/>
<circle cx="137.7" cy="718.8" r="4.75" fill="#ff7f0e" fill-opacity="0.8"/>
<path d="M397 271.9L406.04 278.46L402.58 289.09L391.42 289.09L387.96 278.46Z" fill="#aec7e8" fill-opacity="0.8"/>
<path d="M586.3 258.3L595.34 264.86L591.88 275.49L580.72 275.49L577.26 264.86Z" fill="#aec7e8" fill-opacity="0.8"/>
<path d="M381.2 312.1L390.24 318.66L386.78 329.29L375.62 329.29L372.16 318.66Z" fill="#aec7e8" fill-opacity="0.8"/>
<path d="M388.6 381.8L397.64 388.36L394.18 398.99L383.02 398.99L379.56 388.36Z" fill="#aec7e8" fill-opacity="0.8"/>
<path d="M312.3 442.8L321.34 449.36L317.88 459.99L306.72 459.99L303.26 449.36Z" fill="#aec7e8" fill-opacity="0.8"/>
<path d="M366.5 446.2L375.54 452.76L372.08 463.39L360.92 463.39L357.46 452.76Z" fill="#aec7e8" fill-opacity="0.8"/>
<path d="M247.5 442.8L256.54 449.36L253.08 459.99L241.92 459.99L238.46 449.36Z" fill="#aec7e8" fill-opacity="0.8"/>
<path d="M157.7 503L166.74 509.56L163.28 520.19L152.12 520.19L148.66 509.56Z" fill="#aec7e8" fill-opacity="0.8"/>
<path d="M178.6 509.7L187.64 516.26L184.18 526.89L173.02 526.89L169.56 516.26Z" fill="#aec7e8" fill-opacity="0.8"/>
<path d="M177.5 533.5L186.54 540.06L183.08 550.69L171.92 550.69L168.46 540.06Z" fill="#aec7e8" fill-opacity="0.8"/>
<path d="M265 483.7L274.04 490.26L270.58 500.89L259.42 500.89L255.96 490.26Z" fill="#aec7e8" fill-opacity="0.8"/>
<path d="M203.4 544.8L212.44 551.36L208.98 561.99L197.82 561.99L194.36 551.36Z" fill="#aec7e8" fill-opacity="0.8"/>
<path d="M292.6 521L301.64 527.56L298.18 538.19L287.02 538.19L283.56 527.56Z" fill="#aec7e8" fill-opacity="0.8"/>
<path d="M349.1 543.6L358.14 550.16L354.68 560.79L343.52 560.79L340.06 550.16Z" fill="#aec7e8" fill-opacity="0.8"/>
<path d="M307.3 549.3L316.34 555.86L312.88 566.49L301.72 566.49L298.26 555.86Z" fill="#aec7e8" fill-opacity="0.8"/>
<path d="M240.7 580.7L249.74 587.26L246.28 597.89L235.12 597.89L231.66 587.26Z" fill="#aec7e8" fill-opacity="0.8"/>
<path d="M364.8 271.9L373.03 276.65L373.03 286.15L364.8 290.9L356.57 286.15L356.57 276.65Z" fill="#1f77b4" fill-opacity="0.8"/>
<path d="M416.2 271.9L424.43 276.65L424.43 286.15L416.2 290.9L407.97 286.15L407.97 276.65Z" fill="#1f77b4" fill-opacity="0.8"/>
<path d="M431 262.5L439.23 267.25L439.23 276.75L431 281.5L422.77 276.75L422.77 267.25Z" fill="#1f77b4" fill-opacity="0.8"/>
<path d="M521.7 234.5L529.93 239.25L529.93 248.75L521.7 253.5L513.47 248.75L513.47 239.25Z" fill="#1f77b4" fill-opacity="0.8"/>
<path d="M725.8 232.5L734.03 237.25L734.03 246.75L725.8 251.5L717.57 246.75L717.57 237.25Z" fill="#1f77b4" fill-opacity="0.8"/>
<path d="M597 253.8L605.23 258.55L605.23 268.05L597 272.8L588.77 268.05L588.77 258.55Z" fill="#1f77b4" fill-opacity="0.8"/>
<path d="M400.4 286.1L408.63 290.85L408.63 300.35L400.4 305.1L392.17 300.35L392.17 290.85Z" fill="#1f77b4" fill-opacity="0.8"/>
<path d="M416.2 283.9L424.43 288.65L424.43 298.15L416.2 302.9L407.97 298.15L407.97 288.65Z" fill="#1f77b4" fill-opacity="0.8"/>
<path d="M422.5 312.1L430.73 316.85L430.73 326.35L422.5 331.1L414.27 326.35L414.27 316.85Z" fill="#1f77b4" fill-opacity="0.8"/>
<path d="M347.3 380.5L355.53 385.25L355.53 394.75L347.3 399.5L339.07 394.75L339.07 385.25Z" fill="#1f77b4" fill-opacity="0.8"/>
<path d="M299.9 443.4L308.13 448.15L308.13 457.65L299.9 462.4L291.67 457.65L291.67 448.15Z" fill="#1f77b4" fill-opacity="0.8"/>
<path d="M304.4 442.8L312.63 447.55L312.63 457.05L304.4 461.8L296.17 457.05L296.17 447.55Z" fill="#1f77b4" fill-opacity="0.8"/>
<path d="M353 447.3L361.23 452.05L361.23 461.55L353 466.3L344.77 461.55L344.77 452.05Z" fill="#1f77b4" fill-opacity="0.8"/>
<path d="M449.7 473.1L457.93 477.85L457.93 487.35L449.7 492.1L441.47 487.35L441.47 477.85Z" fill="#1f77b4" fill-opacity="0.8"/>
<path d="M259.9 509.7L268.13 514.45L268.13 523.95L259.9 528.7L251.67 523.95L251.67 514.45Z" fill="#1f77b4" fill-opacity="0.8"/>
<path d="M272.9 503L281.13 507.75L281.13 517.25L272.9 522L264.67 517.25L264.67 507.75Z" fill="#1f77b4" fill-opacity="0.8"/>
<path d="M274.6 521L282.83 525.75L282.83 535.25L274.6 540L266.37 535.25L266.37 525.75Z" fill="#1f77b4" fill-opacity="0.8"/>
<path d="M222.7 522.2L230.93 526.95L230.93 536.45L222.7 541.2L214.47 536.45L214.47 526.95Z" fill="#1f77b4" fill-opacity="0.8"/>
<path d="M212.5 534.6L220.73 539.35L220.73 548.85L212.5 553.6L204.27 548.85L204.27 539.35Z" fill="#1f77b4" fill-opacity="0.8"/>
<path d="M220.4 543.6L228.63 548.35L228.63 557.85L220.4 562.6L212.17 557.85L212.17 548.35Z" fill="#1f77b4" fill-opacity="0.8"/>
<path d="M367.2 483.7L375.43 488.45L375.43 497.95L367.2 502.7L358.97 497.95L358.97 488.45Z" fill="#1f77b4" fill-opacity="0.8"/>
<path d="M318.6 525.6L326.83 530.35L326.83 539.85L318.6 544.6L310.37 539.85L310.37 530.35Z" fill="#1f77b4" fill-opacity="0.8"/>
<path d="M337.8 543.6L346.03 548.35L346.03 557.85L337.8 562.6L329.57 557.85L329.57 548.35Z" fill="#1f77b4" fill-opacity="0.8"/>
<path d="M323.1 548.2L331.33 552.95L331.33 562.45L323.1 567.2L314.87 562.45L314.87 552.95Z" fill="#1f77b4" fill-opacity="0.8"/>
<path d="M183.7 577.3L191.93 582.05L191.93 591.55L183.7 596.3L175.47 591.55L175.47 582.05Z" fill="#1f77b4" fill-opacity="0.8"/>
<circle cx="504.2" cy="192.5" r="9.5" fill="#9edae5" fill-opacity="0.8"/>
<circle cx="599.9" cy="200.4" r="9.5" fill="#9edae5" fill-opacity="0.8"/>
<circle cx="648.4" cy="200.4" r="9.5" fill="#9edae5" fill-opacity="0.8"/>
<circle cx="717.2" cy="210" r="9.5" fill="#9edae5" fill-opacity="0.8"/>
<circle cx="733.8" cy="210" r="9.5" fill="#9edae5" fill-opacity="0.8"/>
<circle cx="742.2" cy="225.6" r="9.5" fill="#9edae5" fill-opacity="0.8"/>
<circle cx="457.1" cy="217.5" r="9.5" fill="#9edae5" fill-opacity="0.8"/>
<circle cx="473.8" cy="223.8" r="9.5" fill="#9edae5" fill-opacity="0.8"/>
<circle cx="488.4" cy="223.8" r="9.5" fill="#9edae5" fill-opacity="0.8"/>
<circle cx="517.6" cy="216.5" r="9.5" fill="#9edae5" fill-opacity="0.8"/>
<circle cx="538.4" cy="219.6" r="9.5" fill="#9edae5" fill-opacity="0.8"/>
<circle cx="554" cy="208.1" r="9.5" fill="#9edae5" fill-opacity="0.8"/>
<circle cx="558.2" cy="218.6" r="9.5" fill="#9edae5" fill-opacity="0.8"/>
<circle cx="578" cy="219.6" r="9.5" fill="#9edae5" fill-opacity="0.8"/>
<circle cx="465.2" cy="247.5" r="9.5" fill="#9edae5" fill-opacity="0.8"/>
<circle cx="490" cy="249.7" r="9.5" fill="#9edae5" fill-opacity="0.8"/>
<circle cx="499" cy="248.6" r="9.5" fill="#9edae5" fill-opacity="0.8"/>
<circle cx="533" cy="247.5" r="9.5" fill="#9edae5" fill-opacity="0.8"/>
<circle cx="566.9" cy="247.5" r="9.5" fill="#9edae5" fill-opacity="0.8"/>
<circle cx="456.6" cy="286.7" r="9.5" fill="#9edae5" fill-opacity="0.8"/>
<circle cx="455.8" cy="275.8" r="9.5" fill="#9edae5" fill-opacity="0.8"/>
<circle cx="466" cy="270" r="9.5" fill="#9edae5" fill-opacity="0.8"/>
<circle cx="476" cy="278" r="9.5" fill="#9edae5" fill-opacity="0.8"/>
<circle cx="498" cy="275.8" r="9.5" fill="#9edae5" fill-opacity="0.8"/>
<circle cx="512.1" cy="287.5" r="9.5" fill="#9edae5" fill-opacity="0.8"/>
<circle cx="518.3" cy="282.8" r="9.5" fill="#9edae5" fill-opacity="0.8"/>
<circle cx="508.2" cy="264.1" r="9.5" fill="#9edae5" fill-opacity="0.8"/>
<circle cx="527.7" cy="264.1" r="9.5" fill="#9edae5" fill-opacity="0.8"/>
<circle cx="535.5" cy="257.8" r="9.5" fill="#9edae5" fill-opacity="0.8"/>
<circle cx="488" cy="268" r="9.5" fill="#9edae5" fill-opacity="0.8"/>
<circle cx="462.9" cy="262" r="9.5" fill="#9edae5" fill-opacity="0.8"/>
<circle cx="594.2" cy="220.3" r="9.5" fill="#9edae5" fill-opacity="0.8"/>
<circle cx="615.7" cy="249.7" r="9.5" fill="#9edae5" fill-opacity="0.8"/>
<circle cx="633.8" cy="254.2" r="9.5" fill="#9edae5" fill-opacity="0.8"/>
<circle cx="646.2" cy="243" r="9.5" fill="#9edae5" fill-opacity="0.8"/>
<circle cx="665.4" cy="263.3" r="9.5" fill="#9edae5" fill-opacity="0.8"/>
<circle cx="680.1" cy="248.6" r="9.5" fill="#9edae5" fill-opacity="0.8"/>
<circle cx="683.5" cy="253.1" r="9.5" fill="#9edae5" fill-opacity="0.8"/>
<circle cx="569.2" cy="353.8" r="9.5" fill="#9edae5" fill-opacity="0.8"/>
<circle cx="652.1" cy="353.5" r="9.5" fill="#9edae5" fill-opacity="0.8"/>
<path d="M522.2 326.2L503.2 316.7L503.2 335.7Z" fill="#7f7f7f" fill-opacity="0.8"/>
<path d="M451.7 513.7L432.7 504.2L432.7 523.2Z" fill="#7f7f7f" fill-opacity="0.8"/>
<path d="M416.5 514.9L397.5 505.4L397.5 524.4Z" fill="#7f7f7f" fill-opacity="0.8"/></g>
<path d="M115.5 581.31L117.64 581.31L119.78 581.31L121.92 581.31L124.06 581.31L126.2 581.31L128.34 581.31L130.48 581.31L132.62 581.31L134.76 581.31L136.9 581.31L139.04 581.31L141.18 581.31L143.32 581.31L145.46 581.31L147.6 581.31L149.74 581.31L151.88 581.31L154.02 581.31L156.16 581.31L158.3 581.31L160.44 581.31L162.58 581.31L164.72 581.31L166.86 581.31L169 581.31L171.14 581.31L173.28 581.31L175.42 581.31L177.56 581.31L179.7 581.31L181.84 581.31L183.98 581.31L186.12 581.31L188.26 581.31L190.4 581.31L192.54 581.31L194.68 581.31L196.82 581.31L198.96 581.31L201.1 581.31L203.24 581.31L205.38 581.31L207.52 581.31L209.66 581.31L211.8 581.31L213.94 581.31L216.08 581.31L218.22 581.31L220.36 581.31L222.5 581.3L224.64 581.3L226.78 581.3L228.92 581.3L231.06 581.3L233.2 581.3L235.34 581.29L237.48 581.29L239.62 581.29L241.76 581.29L243.9 581.28L246.04 581.28L248.18 581.27L250.32 581.11L252.46 580.54L254.6 579.92L256.74 579.25L258.88 578.54L261.02 577.77L263.16 576.95L265.3 576.06L267.44 575.11L269.58 574.1L271.72 573.01L273.86 571.84L276 570.59L278.14 569.26L280.28 567.83L282.42 566.3L284.56 564.67L286.7 562.93L288.84 561.07L290.98 559.09L293.12 556.98L295.26 554.74L297.4 552.35L299.54 549.82L301.68 547.14L303.82 544.3L305.96 541.29L308.1 538.11L310.24 534.76L312.38 531.22L314.52 527.5L316.66 523.59L318.8 519.5L320.94 515.2L323.08 510.72L325.22 506.05L327.36 501.18L329.5 496.12L331.64 490.88L333.78 485.46L335.92 479.87L338.06 474.11L340.2 468.2L342.34 462.15L344.48 455.96L346.62 449.66L348.76 443.26L350.9 436.77L353.04 430.22L355.18 423.61L357.32 416.97L359.46 410.32L361.6 403.67L363.74 397.05L365.88 390.47L368.02 383.95L370.16 377.51L372.3 371.16L374.44 364.93L376.58 358.82L378.72 352.84L380.86 347.02L383 341.36L385.14 335.87L387.28 330.55L389.42 325.41L391.56 320.47L393.7 315.71L395.84 311.14L397.98 306.77L400.12 302.59L402.26 298.6L404.4 294.81L406.54 291.19L408.68 287.76L410.82 284.51L412.96 281.43L415.1 278.52L417.24 275.77L419.38 272.9L421.52 267.76L423.66 263.15L425.8 259.02L427.94 255.34L430.08 252.07L432.22 249.16L434.36 246.59L436.5 244.32L438.64 242.32L440.78 240.56L442.92 239.01L445.06 237.65L447.2 236.45L449.34 235.41L451.48 234.49L453.62 233.69L455.76 232.99L457.9 232.38L460.04 231.84L462.18 231.38L464.32 230.97L466.46 230.61L468.6 230.3L470.74 230.03L472.88 229.8L475.02 229.59L477.16 229.41L479.3 229.26L481.44 229.12L483.58 229L485.72 228.9L487.86 228.81L490 228.73L492.14 228.66L494.28 228.6L496.42 228.55L498.56 228.51L500.7 228.47L502.84 228.43L504.98 228.4L507.12 228.38L509.26 228.36L511.4 228.34L513.54 228.32L515.68 228.3L517.82 228.29L519.96 228.28L522.1 228.27L524.24 228.26L526.38 228.25L528.52 228.25L530.66 228.24L532.8 228.24L534.94 228.23L537.08 228.23L539.22 228.23L541.36 228.22L543.5 228.22L545.64 228.22L547.78 228.22L549.92 228.22L552.06 228.21L554.2 228.21L556.34 228.21L558.48 228.21L560.62 228.21L562.76 228.21L564.9 228.21L567.04 228.21L569.18 228.21L571.32 228.21L573.46 228.21L575.6 228.21L577.74 228.21L579.88 228.21L582.02 228.21L584.16 228.21L586.3 228.21L588.44 228.21L590.58 228.21L592.72 228.21L594.86 228.2L597 228.2L599.14 228.2L601.28 228.2L603.42 228.2L605.56 228.2L607.7 228.2L609.84 228.2L611.98 228.2L614.12 228.2L616.26 228.2L618.4 228.2L620.54 228.2L622.68 228.2L624.82 228.2L626.96 228.2L629.1 228.2L631.24 228.2L633.38 228.2L635.52 228.2L637.66 228.2L639.8 228.2L641.94 228.2L644.08 228.2L646.22 228.2L648.36 228.2L650.5 228.2L652.64 228.2L654.78 228.2L656.92 228.2L659.06 228.2L661.2 228.2L663.34 228.2L665.48 228.2L667.62 228.2L669.76 228.2L671.9 228.2L674.04 228.2L676.18 228.2L678.32 228.2L680.46 228.2L682.6 228.2L684.74 228.2L686.88 228.2L689.02 228.2L691.16 228.2L693.3 228.2L695.44 228.2L697.58 228.2L699.72 228.2L701.86 228.2L704 228.2L706.14 228.2L708.28 228.2L710.42 228.2L712.56 228.2L714.7 228.2L716.84 228.2L718.98 228.2L721.12 228.2L723.26 228.2L725.4 228.2L727.54 228.2L729.68 228.2L731.82 228.2L733.96 228.2L736.1 228.2L738.24 228.2L740.38 228.2L742.52 228.2L744.66 228.2L746.8 228.2L748.94 228.2L751.08 228.2L753.22 228.2L755.36 228.2L757.5 228.2L757.5 254.41L755.36 254.41L753.22 254.41L751.08 254.41L748.94 254.41L746.8 254.41L744.66 254.41L742.52 254.41L740.38 254.41L738.24 254.41L736.1 254.41L733.96 254.41L731.82 254.41L729.68 254.41L727.54 254.41L725.4 254.41L723.26 254.41L721.12 254.41L718.98 254.41L716.84 254.41L714.7 254.41L712.56 254.41L710.42 254.41L708.28 254.41L706.14 254.41L704 254.41L701.86 254.41L699.72 254.41L697.58 254.41L695.44 254.41L693.3 254.41L691.16 254.41L689.02 254.41L686.88 254.41L684.74 254.41L682.6 254.41L680.46 254.41L678.32 254.41L676.18 254.41L674.04 254.41L671.9 254.41L669.76 254.41L667.62 254.41L665.48 254.41L663.34 254.42L661.2 254.42L659.06 254.42L656.92 254.42L654.78 254.42L652.64 254.42L650.5 254.42L648.36 254.42L646.22 254.42L644.08 254.42L641.94 254.42L639.8 254.42L637.66 254.43L635.52 254.43L633.38 254.43L631.24 254.43L629.1 254.43L626.96 254.43L624.82 254.44L622.68 254.44L620.54 254.44L618.4 254.44L616.26 254.44L614.12 254.45L611.98 254.45L609.84 254.45L607.7 254.46L605.56 254.46L603.42 254.47L601.28 254.47L599.14 254.47L597 254.48L594.86 254.49L592.72 254.49L590.58 254.5L588.44 254.51L586.3 254.51L584.16 254.52L582.02 254.53L579.88 254.54L577.74 254.55L575.6 254.56L573.46 254.57L571.32 254.59L569.18 254.6L567.04 254.62L564.9 254.63L562.76 254.65L560.62 254.67L558.48 254.69L556.34 254.71L554.2 254.74L552.06 254.76L549.92 254.79L547.78 254.82L545.64 254.85L543.5 254.89L541.36 254.93L539.22 254.97L537.08 255.01L534.94 255.06L532.8 255.11L530.66 255.17L528.52 255.23L526.38 255.29L524.24 255.36L522.1 255.44L519.96 255.52L517.82 255.61L515.68 255.7L513.54 255.81L511.4 255.92L509.26 256.04L507.12 256.17L504.98 256.3L502.84 256.45L500.7 256.62L498.56 256.79L496.42 256.98L494.28 257.18L492.14 257.4L490 257.63L487.86 257.89L485.72 258.16L483.58 258.45L481.44 258.77L479.3 259.11L477.16 259.48L475.02 259.88L472.88 260.3L470.74 260.76L468.6 261.26L466.46 261.79L464.32 262.36L462.18 262.98L460.04 263.64L457.9 264.35L455.76 265.12L453.62 265.94L451.48 266.82L449.34 267.77L447.2 268.79L445.06 269.88L442.92 271.05L440.78 272.3L438.64 273.64L436.5 275.08L434.36 276.61L432.22 278.25L430.08 280L427.94 281.87L425.8 283.87L423.66 285.99L421.52 288.25L419.38 290.65L417.24 293.21L415.1 295.91L412.96 298.78L410.82 301.82L408.68 305.03L406.54 308.42L404.4 311.98L402.26 315.74L400.12 319.68L397.98 323.81L395.84 328.14L393.7 332.66L391.56 337.37L389.42 342.84L387.28 348.55L385.14 354.41L383 360.42L380.86 366.56L378.72 372.83L376.58 379.2L374.44 385.67L372.3 392.2L370.16 398.79L368.02 405.43L365.88 412.08L363.74 418.73L361.6 425.36L359.46 431.95L357.32 438.49L355.18 444.96L353.04 451.34L350.9 457.61L348.76 463.76L346.62 469.78L344.48 475.65L342.34 481.36L340.2 486.91L338.06 492.28L335.92 497.48L333.78 502.48L331.64 507.3L329.5 511.93L327.36 516.36L325.22 520.6L323.08 524.64L320.94 528.5L318.8 532.25L316.66 536.17L314.52 539.89L312.38 543.44L310.24 546.79L308.1 549.98L305.96 552.99L303.82 555.83L301.68 558.52L299.54 561.05L297.4 563.43L295.26 565.67L293.12 567.77L290.98 569.75L288.84 571.6L286.7 573.33L284.56 574.96L282.42 576.48L280.28 577.9L278.14 579.23L276 580.47L273.86 581.62L271.72 582.7L269.58 583.71L267.44 584.65L265.3 585.52L263.16 586.33L261.02 587.09L258.88 587.79L256.74 588.45L254.6 589.06L252.46 589.62L250.32 590.15L248.18 590.64L246.04 591.09L243.9 591.52L241.76 591.91L239.62 592.27L237.48 592.61L235.34 592.92L233.2 593.21L231.06 593.48L228.92 593.74L226.78 593.97L224.64 594.18L222.5 594.38L220.36 594.57L218.22 594.74L216.08 594.9L213.94 595.05L211.8 595.19L209.66 595.31L207.52 595.43L205.38 595.54L203.24 595.64L201.1 595.74L198.96 595.82L196.82 595.9L194.68 595.98L192.54 596.05L190.4 596.11L188.26 596.17L186.12 596.23L183.98 596.28L181.84 596.33L179.7 596.37L177.56 596.41L175.42 596.45L173.28 596.48L171.14 596.52L169 596.55L166.86 596.57L164.72 596.6L162.58 596.62L160.44 596.64L158.3 596.67L156.16 596.68L154.02 596.7L151.88 596.72L149.74 596.73L147.6 596.75L145.46 596.76L143.32 596.77L141.18 596.78L139.04 596.79L136.9 596.8L134.76 596.81L132.62 596.82L130.48 596.83L128.34 596.83L126.2 596.84L124.06 596.85L121.92 596.85L119.78 596.86L117.64 596.86L115.5 596.87Z" fill="#000" fill-opacity="0.3"/>
<path d="M115.5 588.58L117.64 588.57L119.78 588.56L121.92 588.56L124.06 588.55L126.2 588.54L128.34 588.54L130.48 588.53L132.62 588.52L134.76 588.51L136.9 588.5L139.04 588.49L141.18 588.48L143.32 588.46L145.46 588.45L147.6 588.44L149.74 588.42L151.88 588.4L154.02 588.38L156.16 588.36L158.3 588.34L160.44 588.32L162.58 588.29L164.72 588.27L166.86 588.24L169 588.2L171.14 588.17L173.28 588.13L175.42 588.09L177.56 588.05L179.7 588L181.84 587.95L183.98 587.9L186.12 587.84L188.26 587.78L190.4 587.71L192.54 587.64L194.68 587.56L196.82 587.48L198.96 587.39L201.1 587.29L203.24 587.18L205.38 587.07L207.52 586.95L209.66 586.82L211.8 586.67L213.94 586.52L216.08 586.36L218.22 586.18L220.36 585.99L222.5 585.78L224.64 585.56L226.78 585.32L228.92 585.06L231.06 584.78L233.2 584.48L235.34 584.16L237.48 583.82L239.62 583.44L241.76 583.04L243.9 582.61L246.04 582.15L248.18 581.65L250.32 581.11L252.46 580.54L254.6 579.92L256.74 579.25L258.88 578.54L261.02 577.77L263.16 576.95L265.3 576.06L267.44 575.11L269.58 574.1L271.72 573.01L273.86 571.84L276 570.59L278.14 569.26L280.28 567.83L282.42 566.3L284.56 564.67L286.7 562.93L288.84 561.07L290.98 559.09L293.12 556.98L295.26 554.74L297.4 552.35L299.54 549.82L301.68 547.14L303.82 544.3L305.96 541.29L308.1 538.11L310.24 534.76L312.38 531.22L314.52 527.5L316.66 523.59L318.8 519.5L320.94 515.2L323.08 510.72L325.22 506.05L327.36 501.18L329.5 496.12L331.64 490.88L333.78 485.46L335.92 479.87L338.06 474.11L340.2 468.2L342.34 462.15L344.48 455.96L346.62 449.66L348.76 443.26L350.9 436.77L353.04 430.22L355.18 423.61L357.32 416.97L359.46 410.32L361.6 403.67L363.74 397.05L365.88 390.47L368.02 383.95L370.16 377.51L372.3 371.16L374.44 364.93L376.58 358.82L378.72 352.84L380.86 347.02L383 341.36L385.14 335.87L387.28 330.55L389.42 325.41L391.56 320.47L393.7 315.71L395.84 311.14L397.98 306.77L400.12 302.59L402.26 298.6L404.4 294.81L406.54 291.19L408.68 287.76L410.82 284.51L412.96 281.43L415.1 278.52L417.24 275.77L419.38 273.17L421.52 270.73L423.66 268.43L425.8 266.26L427.94 264.23L430.08 262.32L432.22 260.53L434.36 258.85L436.5 257.28L438.64 255.81L440.78 254.44L442.92 253.15L445.06 251.95L447.2 250.83L449.34 249.78L451.48 248.81L453.62 247.9L455.76 247.05L457.9 246.26L460.04 245.52L462.18 244.84L464.32 244.2L466.46 243.6L468.6 243.05L470.74 242.54L472.88 242.06L475.02 241.61L477.16 241.2L479.3 240.82L481.44 240.46L483.58 240.13L485.72 239.82L487.86 239.53L490 239.27L492.14 239.02L494.28 238.79L496.42 238.58L498.56 238.38L500.7 238.2L502.84 238.03L504.98 237.87L507.12 237.72L509.26 237.58L511.4 237.46L513.54 237.34L515.68 237.23L517.82 237.13L519.96 237.04L522.1 236.95L524.24 236.87L526.38 236.79L528.52 236.72L530.66 236.66L532.8 236.6L534.94 236.54L537.08 236.49L539.22 236.45L541.36 236.4L543.5 236.36L545.64 236.32L547.78 236.29L549.92 236.25L552.06 236.22L554.2 236.2L556.34 236.17L558.48 236.15L560.62 236.12L562.76 236.1L564.9 236.08L567.04 236.06L569.18 236.05L571.32 236.03L573.46 236.02L575.6 236.01L577.74 235.99L579.88 235.98L582.02 235.97L584.16 235.96L586.3 235.95L588.44 235.94L590.58 235.94L592.72 235.93L594.86 235.92L597 235.92L599.14 235.91L601.28 235.9L603.42 235.9L605.56 235.89L607.7 235.89L609.84 235.89L611.98 235.88L614.12 235.88L616.26 235.88L618.4 235.87L620.54 235.87L622.68 235.87L624.82 235.87L626.96 235.86L629.1 235.86L631.24 235.86L633.38 235.86L635.52 235.86L637.66 235.85L639.8 235.85L641.94 235.85L644.08 235.85L646.22 235.85L648.36 235.85L650.5 235.85L652.64 235.85L654.78 235.85L656.92 235.85L659.06 235.84L661.2 235.84L663.34 235.84L665.48 235.84L667.62 235.84L669.76 235.84L671.9 235.84L674.04 235.84L676.18 235.84L678.32 235.84L680.46 235.84L682.6 235.84L684.74 235.84L686.88 235.84L689.02 235.84L691.16 235.84L693.3 235.84L695.44 235.84L697.58 235.84L699.72 235.84L701.86 235.84L704 235.84L706.14 235.84L708.28 235.84L710.42 235.84L712.56 235.84L714.7 235.84L716.84 235.84L718.98 235.84L721.12 235.84L723.26 235.84L725.4 235.84L727.54 235.84L729.68 235.84L731.82 235.84L733.96 235.84L736.1 235.84L738.24 235.84L740.38 235.84L742.52 235.84L744.66 235.84L746.8 235.84L748.94 235.84L751.08 235.84L753.22 235.84L755.36 235.84L757.5 235.84" fill="none" stroke="#000" stroke-width="5.5" stroke-linejoin="round"/>
<line x1="359.2" y1="76.6" x2="359.2" y2="766.4" stroke="#000" stroke-width="3.9" stroke-dasharray="18.7 9.27"/>
<line x1="115" y1="553.6" x2="757.5" y2="553.6" stroke="#000" stroke-width="4.2" stroke-linecap="round" stroke-dasharray="1.8 12.2"/>
<rect x="115.5" y="76.6" width="642" height="689.8" fill="none" stroke="#000" stroke-width="2.5"/>
<line x1="171.9" y1="766.4" x2="171.9" y2="777.4" stroke="#000" stroke-width="2.1"/>
<text x="171.9" y="808.4" text-anchor="middle">0.50</text>
<line x1="266.3" y1="766.4" x2="266.3" y2="777.4" stroke="#000" stroke-width="2.1"/>
<text x="266.3" y="808.4" text-anchor="middle">0.75</text>
<line x1="360.7" y1="766.4" x2="360.7" y2="777.4" stroke="#000" stroke-width="2.1"/>
<text x="360.7" y="808.4" text-anchor="middle">1.00</text>
<line x1="455.1" y1="766.4" x2="455.1" y2="777.4" stroke="#000" stroke-width="2.1"/>
<text x="455.1" y="808.4" text-anchor="middle">1.25</text>
<line x1="549.5" y1="766.4" x2="549.5" y2="777.4" stroke="#000" stroke-width="2.1"/>
<text x="549.5" y="808.4" text-anchor="middle">1.50</text>
<line x1="643.9" y1="766.4" x2="643.9" y2="777.4" stroke="#000" stroke-width="2.1"/>
<text x="643.9" y="808.4" text-anchor="middle">1.75</text>
<line x1="738.3" y1="766.4" x2="738.3" y2="777.4" stroke="#000" stroke-width="2.1"/>
<text x="738.3" y="808.4" text-anchor="middle">2.00</text>
<line x1="104.5" y1="151.8" x2="115.5" y2="151.8" stroke="#000" stroke-width="2.1"/>
<text x="92.8" y="161.8" text-anchor="end">8</text>
<line x1="104.5" y1="252.2" x2="115.5" y2="252.2" stroke="#000" stroke-width="2.1"/>
<text x="92.8" y="262.2" text-anchor="end">6</text>
<line x1="104.5" y1="352.6" x2="115.5" y2="352.6" stroke="#000" stroke-width="2.1"/>
<text x="92.8" y="362.6" text-anchor="end">4</text>
<line x1="104.5" y1="453" x2="115.5" y2="453" stroke="#000" stroke-width="2.1"/>
<text x="92.8" y="463" text-anchor="end">2</text>
<line x1="104.5" y1="553.4" x2="115.5" y2="553.4" stroke="#000" stroke-width="2.1"/>
<text x="92.8" y="563.4" text-anchor="end">0</text>
<line x1="104.5" y1="653.8" x2="115.5" y2="653.8" stroke="#000" stroke-width="2.1"/>
<text x="92.8" y="663.8" text-anchor="end">−2</text>
<line x1="104.5" y1="754.2" x2="115.5" y2="754.2" stroke="#000" stroke-width="2.1"/>
<text x="92.8" y="764.2" text-anchor="end">−4</text>
<text x="448.3" y="845.5" text-anchor="middle">tile sequencing enrichment</text>
<text x="448.3" y="879" text-anchor="middle">(pulldown / flow-through)</text>
<text transform="translate(20.3 420.5) rotate(-90)" text-anchor="middle">reporter activity</text>
<text transform="translate(47.9 420.5) rotate(-90)" text-anchor="middle">(log normalized RFP a.u.)</text>
<text x="130.5" y="20.5" text-anchor="start">not activators</text>
<text x="428.5" y="20.4" text-anchor="start">activators</text>
<text x="395.5" y="54.8" text-anchor="start">enrichment cutoff</text>
<line x1="338.9" y1="15.2" x2="382.9" y2="15.2" stroke="#000" stroke-width="2.7"/><path d="M306.1 15.2L339.9 6.05L339.9 24.35Z" fill="#000"/><path d="M415.7 15.2L381.9 6.05L381.9 24.35Z" fill="#000"/>
<line x1="782.9" y1="532" x2="782.9" y2="575.7" stroke="#000" stroke-width="2.7"/><path d="M782.9 499.5L773.65 533L792.15 533Z" fill="#000"/><path d="M782.9 608.2L773.65 574.7L792.15 574.7Z" fill="#000"/>
<line x1="371.62" y1="63.61" x2="390.2" y2="52.9" stroke="#000" stroke-width="2.7"/>
<path d="M358.1 71.4L374.78 67.1L370.19 59.13Z" fill="#000"/>
<text x="127" y="107.4" text-anchor="start">false negatives =</text>
<text x="127" y="141.1" text-anchor="start">145/252</text>
<text x="750.6" y="540.4" text-anchor="end">Gal4 DBD</text>
<text x="595.8" y="584" text-anchor="end">false positives = 0</text>
<text x="743.4" y="675.3" text-anchor="end">N = 497</text>
<text x="743.4" y="708.9" text-anchor="end">ρ = 0.82</text>
<text x="743.2" y="742.4" text-anchor="end">p = 1.82e-92</text>
<text transform="translate(776 367.8) rotate(90)">activators</text>
<text transform="translate(776 619.6) rotate(90)">not activators</text>
<text x="865" y="43" text-anchor="start">Figure 2F</text>
<path d="M865 66.05L866.43 70.44L871.04 70.44L867.31 73.15L868.73 77.54L865 74.83L861.27 77.54L862.69 73.15L858.96 70.44L863.57 70.44Z" fill="#f7b6d2" fill-opacity="0.8"/>
<text x="915" y="81.7" text-anchor="start">small validation library rep 1</text>
<circle cx="865" cy="112.4" r="6.35" fill="#e377c2" fill-opacity="0.8"/>
<text x="915" y="121.7" text-anchor="start">small validation library rep 2</text>
<path d="M865 158.75L871.35 146.05L858.65 146.05Z" fill="#c49c94" fill-opacity="0.8"/>
<text x="915" y="161.7" text-anchor="start">small validation library rep 3</text>
<path d="M865 186.05L871.04 190.44L868.73 197.54L861.27 197.54L858.96 190.44Z" fill="#c5b0d5" fill-opacity="0.8"/>
<text x="915" y="201.7" text-anchor="start">small validation library rep 4</text>
<text x="860" y="252.5" text-anchor="start">Figure 3B</text>
<path d="M865.2 277.55L871.55 290.25L858.85 290.25Z" fill="#9467bd" fill-opacity="0.8"/>
<text x="915" y="292.2" text-anchor="start">250 library rep 1</text>
<path d="M865.2 317.75L866.63 322.14L871.24 322.14L867.51 324.85L868.93 329.24L865.2 326.53L861.47 329.24L862.89 324.85L859.16 322.14L863.77 322.14Z" fill="#ff9896" fill-opacity="0.8"/>
<text x="915" y="332.4" text-anchor="start">250 library rep 2</text>
<path d="M865.2 355.32L874.18 364.3L865.2 373.28L856.22 364.3Z" fill="#d62728" fill-opacity="0.8"/>
<text x="915" y="372.6" text-anchor="start">500 library rep 1</text>
<path d="M863.08 398.15L867.32 398.15L867.32 402.38L871.55 402.38L871.55 406.62L867.32 406.62L867.32 410.85L863.08 410.85L863.08 406.62L858.85 406.62L858.85 402.38L863.08 402.38Z" fill="#2ca02c" fill-opacity="0.8"/>
<text x="915" y="412.8" text-anchor="start">500 library rep 2</text>
<path d="M862.03 438.35L865.2 441.52L868.38 438.35L871.55 441.52L868.38 444.7L871.55 447.88L868.38 451.05L865.2 447.88L862.03 451.05L858.85 447.88L862.03 444.7L858.85 441.52Z" fill="#ffbb78" fill-opacity="0.8"/>
<text x="915" y="453" text-anchor="start">1K library rep 1</text>
<circle cx="865.2" cy="484.9" r="3.17" fill="#ff7f0e" fill-opacity="0.8"/>
<text x="915" y="493.2" text-anchor="start">1K library rep 2</text>
<path d="M865.2 518.75L871.24 523.14L868.93 530.24L861.47 530.24L859.16 523.14Z" fill="#aec7e8" fill-opacity="0.8"/>
<text x="915" y="533.4" text-anchor="start">2K library rep 1</text>
<path d="M865.2 558.95L870.7 562.13L870.7 568.48L865.2 571.65L859.7 568.48L859.7 562.13Z" fill="#1f77b4" fill-opacity="0.8"/>
<text x="915" y="573.6" text-anchor="start">2K library rep 2</text>
<text x="859.5" y="628.8" text-anchor="start">Figure 4D, Extended Data Fig. 7</text>
<circle cx="864.9" cy="660.6" r="6.35" fill="#9edae5" fill-opacity="0.8"/>
<text x="915" y="670" text-anchor="start">selected strong viral activators vs rep 1</text>
<path d="M858.55 694.35L871.25 694.35L871.25 707.05L858.55 707.05Z" fill="#17becf" fill-opacity="0.8"/>
<text x="915" y="710.1" text-anchor="start">selected strong viral activators vs rep 2</text>
<path d="M864.9 731.82L870.29 740.8L864.9 749.78L859.51 740.8Z" fill="#dbdb8d" fill-opacity="0.8"/>
<text x="915" y="750.2" text-anchor="start">selected strong viral repressors vs rep 1</text>
<path d="M858.55 780.9L871.25 774.55L871.25 787.25Z" fill="#bcbd22" fill-opacity="0.8"/>
<text x="915" y="790.3" text-anchor="start">selected strong viral repressors vs rep 2</text>
<text x="867" y="843" text-anchor="start">Figure 5F, G</text>
<path d="M875.15 867.3L862.45 860.95L862.45 873.65Z" fill="#7f7f7f" fill-opacity="0.8"/>
<text x="921" y="875.6" text-anchor="start">ADs tested in yeast</text>
<rect x="1175.4" y="268.4" width="44.2" height="23.3" fill="#000" fill-opacity="0.3"/>
<line x1="1175.4" y1="280.2" x2="1219.6" y2="280.2" stroke="#000" stroke-width="4.2"/>
<text x="1236" y="287.5" text-anchor="start">Sigmoidal fit ±SD</text>
<line x1="1174.2" y1="327.3" x2="1196.3" y2="327.3" stroke="#000" stroke-width="3.6"/>
<line x1="1205.4" y1="327.3" x2="1218.7" y2="327.3" stroke="#000" stroke-width="3.6"/>
<text x="1236.5" y="334.7" text-anchor="start">Enrichment cutoff</text>
<ellipse cx="1175.4" cy="374.8" rx="2.7" ry="2.1" fill="#000"/>
<ellipse cx="1189.4" cy="374.8" rx="2.7" ry="2.1" fill="#000"/>
<ellipse cx="1203.1" cy="374.8" rx="2.7" ry="2.1" fill="#000"/>
<ellipse cx="1217.3" cy="374.8" rx="2.7" ry="2.1" fill="#000"/>
<text x="1237.5" y="382.8" text-anchor="start">Gal4 DBD fluorescence.</text>
</svg>
</body></html>
